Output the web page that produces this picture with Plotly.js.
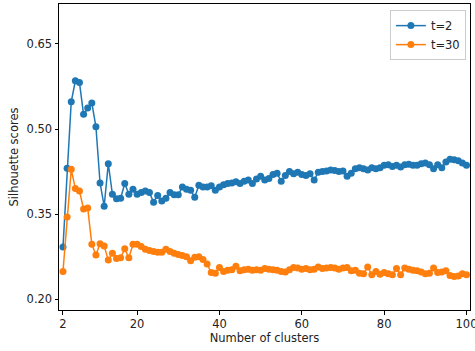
<!DOCTYPE html>
<html>
<head>
<meta charset="utf-8">
<script src="https://cdn.plot.ly/plotly-3.0.1.min.js"></script>
<style>html,body{margin:0;padding:0;background:#fff;}#chart{width:475px;height:351px;}</style>
</head>
<body>
<div id="chart"></div>
<script>
// Number of clusters: 2..100
var clusters = [];
for (var k = 2; k <= 100; k++) clusters.push(k);

var seriesNames = ["t=2", "t=30"];

var scoresT2 = [
  0.292, 0.431, 0.548, 0.585, 0.582, 0.526, 0.537, 0.546, 0.504, 0.405,
  0.364, 0.439, 0.385, 0.377, 0.378, 0.404, 0.385, 0.394, 0.385, 0.388,
  0.391, 0.388, 0.371, 0.383, 0.373, 0.378, 0.388, 0.384, 0.384, 0.398,
  0.394, 0.392, 0.380, 0.401, 0.398, 0.398, 0.400, 0.392, 0.398, 0.402,
  0.404, 0.405, 0.407, 0.404, 0.408, 0.410, 0.404, 0.412, 0.417, 0.410,
  0.413, 0.420, 0.422, 0.408, 0.418, 0.425, 0.421, 0.424, 0.420, 0.418,
  0.421, 0.410, 0.424, 0.425, 0.426, 0.428, 0.427, 0.425, 0.426, 0.417,
  0.422, 0.430, 0.432, 0.430, 0.428, 0.432, 0.430, 0.432, 0.436, 0.437,
  0.434, 0.436, 0.433, 0.437, 0.438, 0.436, 0.436, 0.439, 0.440, 0.437,
  0.430, 0.437, 0.432, 0.442, 0.447, 0.446, 0.444, 0.440, 0.436
];

var scoresT30 = [
  0.249, 0.345, 0.429, 0.395, 0.391, 0.359, 0.361, 0.297, 0.278, 0.298,
  0.294, 0.269, 0.281, 0.272, 0.273, 0.289, 0.273, 0.297, 0.297, 0.293,
  0.288, 0.286, 0.284, 0.283, 0.283, 0.288, 0.284, 0.281, 0.279, 0.277,
  0.275, 0.268, 0.274, 0.275, 0.270, 0.262, 0.247, 0.246, 0.256, 0.249,
  0.251, 0.252, 0.258, 0.250, 0.252, 0.253, 0.251, 0.252, 0.251, 0.254,
  0.253, 0.252, 0.251, 0.249, 0.248, 0.252, 0.256, 0.255, 0.253, 0.254,
  0.252, 0.253, 0.257, 0.254, 0.255, 0.256, 0.255, 0.253, 0.255, 0.256,
  0.250, 0.251, 0.246, 0.245, 0.257, 0.243, 0.249, 0.244, 0.247, 0.245,
  0.243, 0.254, 0.243, 0.255, 0.253, 0.251, 0.250, 0.248, 0.245, 0.246,
  0.255, 0.247, 0.248, 0.250, 0.242, 0.240, 0.241, 0.245, 0.243
];

var xTicks = [2, 20, 40, 60, 80, 100];
var yTicks = [0.20, 0.35, 0.50, 0.65];
var yTickLabels = ["0.20", "0.35", "0.50", "0.65"];

var colors = ["#1f77b4", "#ff7f0e"];

var traces = [scoresT2, scoresT30].map(function (vals, i) {
  return {
    x: clusters, y: vals, name: seriesNames[i],
    type: "scatter", mode: "lines+markers",
    line: {color: colors[i], width: 1.5},
    marker: {color: colors[i], size: 7}
  };
});

var axisCommon = {
  showgrid: false, zeroline: false, showline: true, mirror: true,
  linecolor: "#000", linewidth: 1, ticks: "outside", ticklen: 3.5,
  tickcolor: "#000", tickfont: {size: 11.5, color: "#222"},
  ticklabeloverflow: "allow"
};

var layout = {
  width: 475, height: 351,
  margin: {l: 59, r: 5, t: 4, b: 41},
  paper_bgcolor: "#fff", plot_bgcolor: "#fff",
  font: {family: "DejaVu Sans, sans-serif", size: 11.5, color: "#222"},
  xaxis: Object.assign({}, axisCommon, {
    range: [1.03, 100.85], tickvals: xTicks,
    title: {text: "Number of clusters", font: {size: 11.5}, standoff: 3}
  }),
  yaxis: Object.assign({}, axisCommon, {
    range: [0.181, 0.7205], tickvals: yTicks, ticktext: yTickLabels,
    title: {text: "Silhouette scores", font: {size: 11.5}, standoff: 5}
  }),
  showlegend: true,
  legend: {
    x: 0.99, y: 0.98, xanchor: "right", yanchor: "top",
    bgcolor: "rgba(255,255,255,0.8)", bordercolor: "#ccc", borderwidth: 1,
    font: {size: 11.5}, itemwidth: 30, tracegroupgap: 0
  }
};

Plotly.newPlot("chart", traces, layout, {displayModeBar: false, staticPlot: true});
</script>
</body>
</html>
